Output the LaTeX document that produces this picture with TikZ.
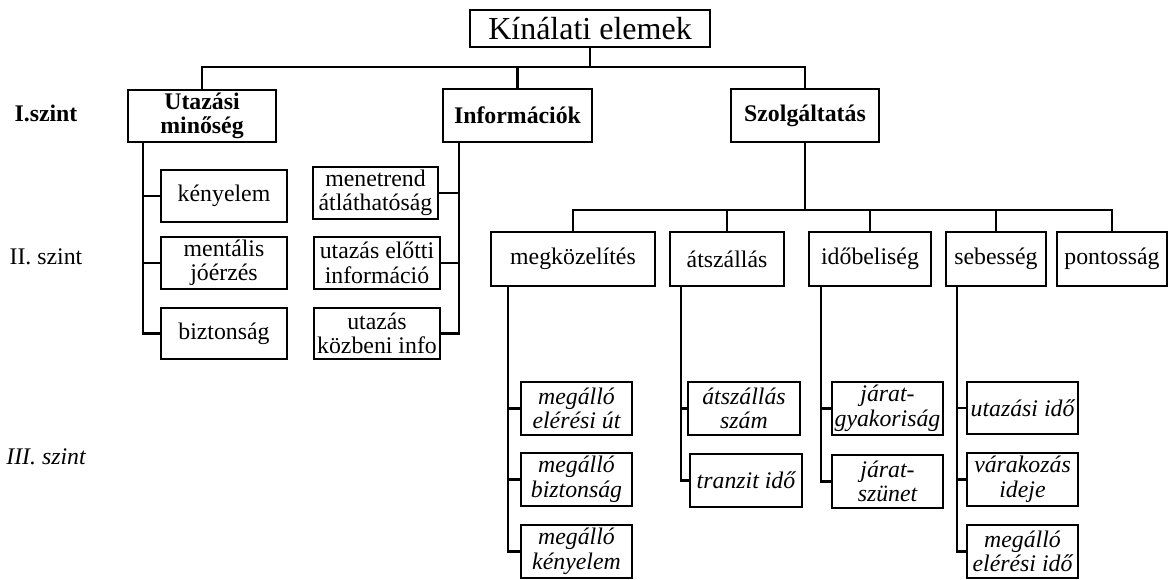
\documentclass[tikz,border=0pt]{standalone}
\usepackage{fontspec}
\setmainfont{Liberation Serif}
\begin{document}
\begin{tikzpicture}[x=1pt,y=-1pt,
  txt/.style={font=\fontsize{23.8}{24.5}\selectfont},
  box/.style={draw, line width=2.9pt, inner sep=0pt, align=center, txt},
  boxb/.style={box, font=\fontsize{23.8}{24.5}\selectfont\bfseries},
  boxi/.style={box, font=\fontsize{23.8}{24.5}\selectfont\itshape},
  conn/.style={line width=2.7pt, line cap=rect},
  conns/.style={line width=2.4pt, line cap=rect}]
\useasboundingbox (0,0) rectangle (1168,579);

% top
\node[box, font=\fontsize{32}{34}\selectfont, minimum width=240pt, minimum height=37pt] (top) at (590,28.5) {Kínálati elemek};

% level I
\node[boxb, minimum width=148pt, minimum height=52pt] (utaz) at (202,116) {Utazási\\minőség};
\node[boxb, minimum width=149pt, minimum height=53pt] (info) at (517.5,115.5) {Információk};
\node[boxb, minimum width=148pt, minimum height=53pt] (szolg) at (805,115.5) {Szolgáltatás};

% level labels
\node[txt, font=\fontsize{23.8}{24.5}\selectfont\bfseries] (l1) at (46,113) {I.szint};
\node[txt] (l2) at (46,257) {II. szint};
\node[txt, font=\fontsize{23.8}{24.5}\selectfont\itshape] (l3) at (46,457) {III. szint};

% utazasi minoseg children
\node[box, minimum width=126pt, minimum height=52pt] (kenyelem) at (224,196) {kényelem};
\node[box, minimum width=126pt, minimum height=52pt] (mentalis) at (224,263) {mentális\\jóérzés};
\node[box, minimum width=126pt, minimum height=51pt] (bizt) at (224,333.5) {biztonság};

% informaciok children
\node[box, minimum width=125pt, minimum height=52pt] (menetrend) at (375.5,193) {menetrend\\átláthatóság};
\node[box, minimum width=126pt, minimum height=52pt] (elotti) at (377,263) {utazás előtti\\információ};
\node[box, minimum width=126pt, minimum height=51pt] (kozbeni) at (377,333.5) {utazás\\közbeni info};

% szolgaltatas children
\node[box, minimum width=164pt, minimum height=54pt] (megk) at (573,259) {megközelítés};
\node[box, minimum width=114pt, minimum height=54pt] (atsz) at (727,259) {átszállás};
\node[box, minimum width=122pt, minimum height=54pt] (idob) at (870,259) {időbeliség};
\node[box, minimum width=100pt, minimum height=54pt] (sebes) at (996,259) {sebesség};
\node[box, minimum width=110pt, minimum height=54pt] (pont) at (1112,259) {pontosság};

% level III
\node[boxi, minimum width=111pt, minimum height=53pt] (m1) at (576.5,408.5) {megálló\\elérési út};
\node[boxi, minimum width=111pt, minimum height=53pt] (m2) at (576.5,479.5) {megálló\\biztonság};
\node[boxi, minimum width=111pt, minimum height=53pt] (m3) at (576.5,551.5) {megálló\\kényelem};

\node[boxi, minimum width=112pt, minimum height=53pt] (a1) at (744,408.5) {átszállás\\szám};
\node[boxi, minimum width=112pt, minimum height=53pt] (a2) at (746,480.5) {tranzit idő};

\node[boxi, minimum width=111pt, minimum height=53pt] (i1) at (887.5,408.5) {járat-\\gyakoriság};
\node[boxi, minimum width=111pt, minimum height=53pt] (i2) at (887.5,481.5) {járat-\\szünet};

\node[boxi, minimum width=111pt, minimum height=52pt] (s1) at (1022.5,408) {utazási idő};
\node[boxi, minimum width=111pt, minimum height=53pt] (s2) at (1022.5,479.5) {várakozás\\ideje};
\node[boxi, minimum width=111pt, minimum height=53pt] (s3) at (1022.5,551.5) {megálló\\elérési idő};

% helper coordinates
\coordinate (lvl1) at (0,67);
\coordinate (lvl2) at (0,210);
\coordinate (uline) at (143,0);
\coordinate (iline) at (459,0);
\coordinate (mline) at (508,0);
\coordinate (aline) at (681,0);
\coordinate (dline) at (821,0);
\coordinate (sline) at (957,0);

% connectors top
\draw[conn] (top.south) -- (top.south |- lvl1);
\draw[conn] (utaz.north) |- (szolg.north |- lvl1) -- (szolg.north);
\draw[conn] (info.north) -- (info.north |- lvl1);

% utazasi column
\draw[conn] (utaz.south -| uline) |- (bizt.west);
\draw[conn] (kenyelem.west) -- (kenyelem.west -| uline);
\draw[conn] (mentalis.west) -- (mentalis.west -| uline);

% info column
\draw[conn] (info.south -| iline) |- (kozbeni.east);
\draw[conn] (menetrend.east) -- (menetrend.east -| iline);
\draw[conn] (elotti.east) -- (elotti.east -| iline);

% szolgaltatas
\draw[conn] (szolg.south) -- (szolg.south |- lvl2);
\draw[conns] (megk.north) |- (pont.north |- lvl2) -- (pont.north);
\draw[conns] (atsz.north) -- (atsz.north |- lvl2);
\draw[conns] (idob.north) -- (idob.north |- lvl2);
\draw[conns] (sebes.north) -- (sebes.north |- lvl2);

% level III columns
\draw[conn] (megk.south -| mline) |- (m3.west);
\draw[conn] (m1.west) -- (m1.west -| mline);
\draw[conn] (m2.west) -- (m2.west -| mline);

\draw[conn] (atsz.south -| aline) |- (a2.west);
\draw[conn] (a1.west) -- (a1.west -| aline);

\draw[conn] (idob.south -| dline) |- (i2.west);
\draw[conn] (i1.west) -- (i1.west -| dline);

\draw[conn] (sebes.south -| sline) |- (s3.west);
\draw[conn] (s1.west) -- (s1.west -| sline);
\draw[conn] (s2.west) -- (s2.west -| sline);
\end{tikzpicture}
\end{document}
